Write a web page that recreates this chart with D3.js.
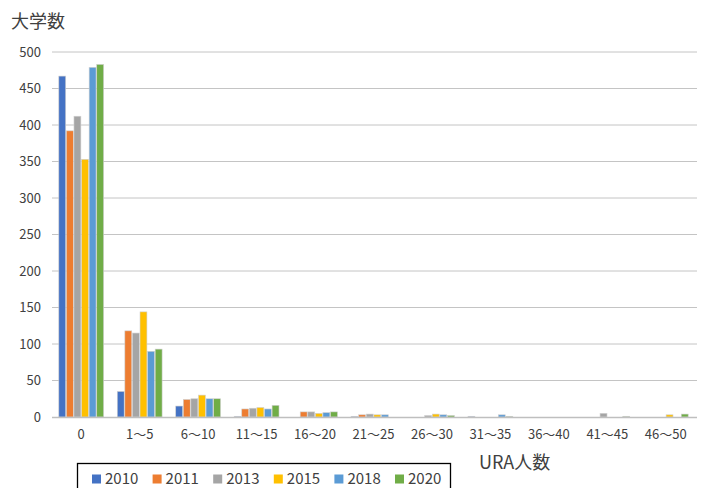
<!DOCTYPE html>
<html>
<head>
<meta charset="utf-8">
<script src="https://cdn.jsdelivr.net/npm/d3@7"></script>
<style>
  html, body { margin: 0; padding: 0; background: #fff; }
  svg { display: block; font-family: "Noto Sans CJK JP", "Noto Sans", sans-serif; }
</style>
</head>
<body>
<svg id="chart" width="701" height="488"></svg>
<script>
// URA staff count bands (x-axis categories)
const categories = ["0", "1～5", "6～10", "11～15", "16～20", "21～25", "26～30", "31～35", "36～40", "41～45", "46～50"];
// Survey years (series)
const years = ["2010", "2011", "2013", "2015", "2018", "2020"];
// Number of universities per band, one array per year
const v2010 = [467, 35, 15, 1, 0, 1, 0, 1, 0, 0, 0];
const v2011 = [392, 118, 24, 11, 7, 3, 0, 0, 0, 0, 0];
const v2013 = [412, 115, 25, 12, 7, 4, 2, 0, 0, 5, 0];
const v2015 = [353, 144, 30, 13, 5, 3, 4, 0, 0, 0, 3];
const v2018 = [479, 90, 25, 11, 6, 3, 3, 3, 0, 0, 0];
const v2020 = [483, 93, 25, 16, 7, 0, 2, 1, 0, 1, 4];
const yTicks = [0, 50, 100, 150, 200, 250, 300, 350, 400, 450, 500];
const colors = ["#4472C4", "#ED7D31", "#A5A5A5", "#FFC000", "#5B9BD5", "#70AD47"];

const seriesValues = [v2010, v2011, v2013, v2015, v2018, v2020];
const rows = categories.map((c, i) => {
  const r = { cat: c };
  years.forEach((y, j) => { r[y] = seriesValues[j][i]; });
  return r;
});

const svg = d3.select("#chart");
const plot = { left: 52, right: 695, top: 52, bottom: 417 };

const x0 = d3.scaleBand().domain(categories).range([plot.left, plot.right]).paddingInner(0.21).paddingOuter(0.105);
const x1 = d3.scaleBand().domain(years).range([0, x0.bandwidth()]).padding(0.09);
const y = d3.scaleLinear().domain([0, 500]).range([plot.bottom, plot.top]);
const color = d3.scaleOrdinal().domain(years).range(colors);

// Horizontal gridlines
svg.append("g")
  .selectAll("line")
  .data(yTicks.filter(t => t > 0))
  .join("line")
  .attr("x1", plot.left).attr("x2", 697)
  .attr("y1", d => y(d)).attr("y2", d => y(d))
  .attr("stroke", "#c4c4c4").attr("stroke-width", 1);

// Y axis labels
const yAxis = d3.axisLeft(y).tickValues(yTicks).tickSize(0).tickPadding(0);
const yg = svg.append("g").attr("transform", `translate(41,0)`).call(yAxis);
yg.select(".domain").remove();
yg.selectAll("text").attr("font-size", 13).attr("fill", "#404040")
  .attr("font-family", "'Noto Sans CJK JP', sans-serif");

// Bars
const groups = svg.append("g")
  .selectAll("g")
  .data(rows)
  .join("g")
  .attr("transform", d => `translate(${x0(d.cat)},0)`);

groups.selectAll("rect")
  .data(d => years.map(k => ({ key: k, value: d[k] })))
  .join("rect")
  .filter(d => d.value > 0)
  .attr("x", d => x1(d.key))
  .attr("width", x1.bandwidth())
  .attr("y", d => y(d.value))
  .attr("height", d => y(0) - y(d.value))
  .attr("fill", d => color(d.key))
  .attr("stroke", "#d0d0d0")
  .attr("stroke-width", 0.6);

// Baseline
svg.append("line")
  .attr("x1", plot.left).attr("x2", 697)
  .attr("y1", y(0) + 0.5).attr("y2", y(0) + 0.5)
  .attr("stroke", "#bfbfbf").attr("stroke-width", 1.6);

// X axis labels
const xAxis = d3.axisBottom(x0).tickSize(0).tickPadding(0);
const xg = svg.append("g").attr("transform", `translate(0,${plot.bottom + 13})`).call(xAxis);
xg.select(".domain").remove();
xg.selectAll("text").attr("font-size", 13).attr("fill", "#404040")
  .attr("font-family", "'Noto Sans CJK JP', sans-serif");

// Axis titles
svg.append("text")
  .attr("x", 11).attr("y", 28)
  .attr("font-size", 18).attr("fill", "#404040")
  .text("大学数");

svg.append("text")
  .attr("x", 479).attr("y", 469)
  .attr("font-size", 18).attr("fill", "#404040")
  .text("URA人数");

// Legend
const legend = svg.append("g");
legend.append("rect")
  .attr("x", 77.5).attr("y", 463.5)
  .attr("width", 373).attr("height", 40)
  .attr("fill", "#fff").attr("stroke", "#000").attr("stroke-width", 1.3);

const item = legend.selectAll("g.item")
  .data(years)
  .join("g")
  .attr("class", "item")
  .attr("transform", (d, i) => `translate(${92 + i * 60.6},479)`);
item.append("rect")
  .attr("x", 0).attr("y", -4.5)
  .attr("width", 9).attr("height", 9)
  .attr("fill", d => color(d));
item.append("text")
  .attr("x", 13).attr("y", 0)
  .attr("dy", "0.35em")
  .attr("font-size", 15).attr("fill", "#404040")
  .text(d => d);
</script>
</body>
</html>
